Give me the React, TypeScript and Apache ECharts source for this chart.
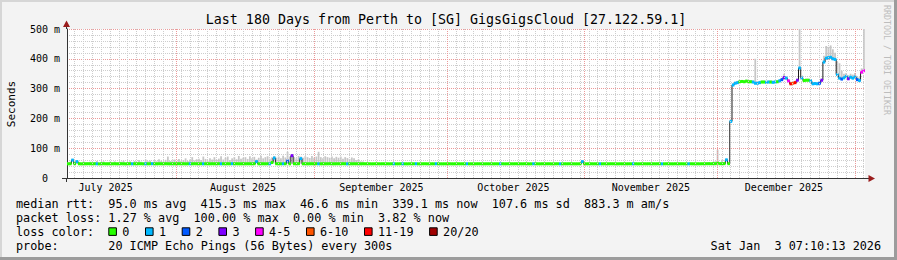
import React, { useEffect, useRef } from "react";
import * as echarts from "echarts";

// ---------------- data ----------------
const TITLE = "Last 180 Days from Perth to [SG] GigsGigsCloud [27.122.59.1]";
const SPAN_DAYS = 180;
const SAMPLE_DAYS = 0.5;
const Y_MAX_MS = 500;
const Y_STEP_MS = 100;

const monthNames = ["July 2025", "August 2025", "September 2025", "October 2025", "November 2025", "December 2025"];
// days after the graph start (Jul 7 2025 07:10:13)
const monthLabelDays = [8.7, 39.7, 70.9, 100.7, 131.7, 161.7];
const monthStartDays = [24.7, 55.7, 85.7, 116.7, 146.7, 177.7];
const MINOR_GRID_FIRST_DAY = 1.7;
const MINOR_GRID_STEP_DAYS = 2;

// median rtt (ms), one value per half day
const medianMs = [
  47.6, 47.8, 60.0, 47.9, 55.0, 47.7, 47.5, 47.8, 47.6, 47.9,
  47.7, 47.5, 47.8, 47.6, 47.4, 47.7, 47.9, 47.6, 47.5, 47.8,
  47.6, 47.8, 47.5, 47.7, 47.9, 47.6, 47.4, 47.7, 47.8, 47.5,
  47.7, 47.6, 47.9, 47.8, 47.5, 47.7, 47.6, 47.8, 47.9, 47.6,
  47.5, 47.8, 47.7, 47.6, 47.9, 47.7, 47.5, 47.8, 47.6, 47.7,
  47.9, 47.6, 47.8, 47.5, 47.7, 47.8, 47.6, 47.9, 47.7, 47.5,
  47.8, 47.6, 47.7, 47.9, 47.5, 47.8, 47.6, 47.7, 47.9, 47.6,
  47.7, 47.5, 47.8, 47.6, 47.9, 47.7, 47.8, 47.6, 47.5, 47.9,
  47.6, 47.8, 47.7, 47.5, 47.9, 55.0, 47.6, 47.8, 47.7, 47.6,
  47.8, 47.5, 52.0, 67.0, 47.9, 47.7, 47.6, 47.8, 47.7, 57.0,
  47.6, 75.0, 47.8, 47.7, 47.9, 65.0, 47.6, 47.8, 47.5, 47.7,
  47.8, 47.6, 47.9, 47.7, 47.5, 47.8, 47.6, 47.7, 47.9, 47.6,
  47.5, 47.7, 47.8, 47.6, 47.9, 47.7, 47.5, 47.8, 47.6, 47.7,
  47.6, 47.8, 47.5, 47.7, 47.6, 47.8, 47.7, 47.5, 47.6, 47.8,
  47.7, 47.6, 47.8, 47.5, 47.7, 47.6, 47.8, 47.7, 47.5, 47.6,
  47.8, 47.7, 47.6, 47.5, 47.8, 47.6, 47.7, 47.8, 47.5, 47.6,
  47.7, 47.8, 47.6, 47.5, 47.7, 47.6, 47.8, 47.7, 47.6, 47.5,
  47.6, 47.7, 47.8, 47.6, 47.5, 47.7, 47.8, 47.6, 47.7, 47.5,
  47.8, 47.6, 47.7, 47.5, 47.6, 47.8, 47.7, 47.6, 47.5, 47.7,
  47.6, 47.8, 47.5, 47.7, 47.6, 47.8, 47.7, 47.5, 47.6, 47.8,
  47.7, 47.6, 47.8, 47.5, 47.7, 47.6, 47.8, 47.7, 47.5, 47.6,
  47.8, 47.7, 47.6, 47.5, 47.8, 47.6, 47.7, 47.8, 47.5, 47.6,
  47.7, 47.8, 47.6, 47.5, 47.7, 47.6, 47.8, 47.7, 47.6, 47.5,
  47.6, 47.7, 55.0, 47.6, 47.5, 47.7, 47.8, 47.6, 47.7, 47.5,
  47.8, 47.6, 47.7, 47.5, 47.6, 47.8, 47.7, 47.6, 47.5, 47.7,
  47.6, 47.8, 47.5, 47.7, 47.6, 47.8, 47.7, 47.5, 47.6, 47.8,
  47.7, 47.6, 47.8, 47.5, 47.7, 47.6, 47.8, 47.7, 47.5, 47.6,
  47.8, 47.7, 47.6, 47.5, 47.8, 47.6, 47.7, 47.8, 47.5, 47.6,
  47.7, 47.8, 47.6, 47.5, 47.7, 47.6, 47.8, 47.7, 47.9, 48.0,
  47.8, 48.1, 47.9, 50.0, 48.0, 47.8, 48.2, 61.0, 48.0, 190.0,
  312, 318, 320, 323, 324, 323, 325, 323, 323, 322,
  318, 318, 320, 322, 322, 321, 322, 322, 321, 322,
  323, 326, 330, 337, 335, 326, 316, 318, 320, 328,
  369, 335, 327, 328, 328, 326, 316, 317, 316, 318,
  328, 389, 402, 404, 405, 400, 398, 347, 335, 332,
  336, 341, 333, 338, 335, 339, 330, 327, 355, 360,
];

// lost pings out of 20, per half day
const lossCount = [
  0, 0, 1, 0, 1, 0, 0, 0, 0, 0,
  0, 0, 0, 1, 0, 0, 0, 0, 0, 0,
  0, 0, 0, 0, 0, 0, 0, 0, 0, 1,
  0, 0, 0, 0, 0, 1, 0, 0, 1, 0,
  0, 0, 0, 0, 0, 0, 0, 0, 0, 0,
  0, 0, 0, 0, 0, 1, 0, 0, 0, 0,
  0, 1, 0, 0, 0, 0, 0, 0, 0, 1,
  0, 0, 0, 0, 1, 0, 0, 0, 0, 0,
  0, 0, 0, 0, 0, 1, 0, 0, 0, 0,
  0, 1, 0, 1, 0, 0, 0, 1, 0, 2,
  0, 3, 0, 0, 0, 1, 0, 0, 0, 0,
  0, 0, 0, 1, 0, 0, 0, 0, 0, 0,
  0, 0, 0, 0, 0, 0, 1, 0, 0, 0,
  0, 0, 0, 0, 0, 0, 0, 0, 0, 0,
  0, 0, 0, 0, 0, 0, 0, 1, 0, 0,
  0, 1, 0, 0, 0, 0, 0, 1, 0, 0,
  0, 0, 0, 0, 0, 0, 1, 0, 0, 0,
  0, 0, 0, 0, 0, 0, 0, 0, 0, 0,
  1, 0, 0, 0, 0, 0, 0, 0, 0, 0,
  0, 0, 0, 0, 0, 1, 0, 0, 0, 0,
  0, 0, 0, 0, 0, 0, 0, 0, 0, 0,
  1, 0, 0, 0, 0, 0, 0, 0, 0, 0,
  0, 0, 1, 0, 0, 0, 0, 0, 0, 0,
  0, 0, 1, 0, 0, 0, 0, 0, 0, 0,
  1, 0, 0, 0, 0, 0, 0, 0, 0, 0,
  0, 0, 0, 0, 0, 1, 0, 0, 0, 0,
  0, 0, 0, 0, 0, 0, 0, 0, 1, 0,
  0, 0, 0, 0, 0, 0, 0, 0, 0, 0,
  1, 0, 0, 0, 0, 0, 0, 0, 0, 0,
  0, 0, 0, 0, 0, 0, 0, 1, 0, 1,
  1, 1, 1, 0, 0, 0, 0, 0, 0, 1,
  1, 1, 1, 0, 0, 1, 1, 0, 1, 1,
  0, 1, 2, 3, 1, 4, 15, 8, 12, 3,
  1, 1, 0, 0, 0, 1, 1, 1, 1, 2,
  3, 1, 1, 1, 1, 1, 1, 1, 1, 2,
  1, 1, 3, 1, 1, 1, 2, 1, 5, 4,
];

// top of the ping "smoke" (ms), per half day
const smokeHighMs = [
  53, 55, 64, 52, 58, 54, 51, 56, 53, 52,
  55, 52, 54, 57, 51, 53, 56, 52, 54, 55,
  52, 56, 53, 51, 55, 58, 52, 54, 56, 53,
  57, 54, 60, 55, 52, 62, 56, 58, 54, 60,
  56, 63, 58, 55, 61, 72, 57, 59, 62, 56,
  64, 58, 60, 66, 57, 62, 70, 59, 63, 65,
  60, 72, 64, 58, 66, 62, 70, 61, 65, 73,
  62, 68, 72, 60, 66, 70, 63, 74, 65, 68,
  70, 64, 73, 66, 71, 62, 68, 75, 66, 70,
  73, 65, 70, 74, 68, 72, 66, 75, 69, 88,
  72, 80, 70, 66, 74, 72, 68, 73, 70, 67,
  74, 68, 72, 88, 70, 66, 73, 70, 68, 72,
  66, 71, 68, 72, 65, 70, 67, 64, 69, 66,
  60, 62, 56, 55, 52, 51, 50, 50, 49, 49,
  49, 49, 49, 49, 49, 49, 49, 49, 49, 49,
  49, 49, 49, 49, 49, 49, 49, 49, 49, 49,
  49, 49, 49, 49, 49, 49, 49, 49, 49, 49,
  49, 49, 49, 49, 49, 49, 49, 49, 49, 49,
  49, 49, 49, 49, 49, 49, 49, 49, 49, 49,
  49, 49, 49, 49, 49, 49, 49, 49, 49, 49,
  49, 49, 49, 49, 49, 49, 49, 49, 49, 49,
  49, 49, 49, 49, 49, 49, 49, 49, 49, 49,
  49, 49, 49, 49, 49, 49, 49, 49, 49, 49,
  49, 49, 58, 49, 49, 49, 49, 49, 49, 49,
  49, 49, 49, 49, 49, 49, 49, 49, 49, 49,
  49, 49, 49, 49, 49, 49, 49, 49, 49, 49,
  49, 49, 49, 49, 49, 49, 49, 49, 49, 49,
  49, 49, 49, 49, 49, 49, 49, 49, 49, 49,
  49, 49, 49, 49, 49, 49, 49, 49, 52, 53,
  50, 54, 56, 95, 52, 61, 53, 64, 50, 196,
  318, 323, 326, 328, 329, 328, 330, 328, 328, 327,
  400, 324, 326, 327, 327, 326, 327, 327, 326, 327,
  328, 332, 336, 350, 341, 331, 322, 324, 326, 334,
  520, 345, 332, 333, 333, 331, 322, 322, 322, 324,
  334, 410, 443, 440, 445, 432, 420, 390, 385, 360,
  350, 352, 345, 350, 347, 352, 342, 338, 368, 520,
];

const lossLegend = [
  { label: "0", color: "#26ff00" },
  { label: "1", color: "#00b8ff" },
  { label: "2", color: "#0059ff" },
  { label: "3", color: "#7e00ff" },
  { label: "4-5", color: "#ff00ff" },
  { label: "6-10", color: "#ff5500" },
  { label: "11-19", color: "#ff0000" },
  { label: "20/20", color: "#a00000" },
];
const lossUpper = [0, 1, 2, 3, 5, 10, 19, 20];

const statLines = [
  "median rtt:  95.0 ms avg  415.3 ms max  46.6 ms min  339.1 ms now  107.6 ms sd  883.3 m am/s",
  "packet loss: 1.27 % avg  100.00 % max  0.00 % min  3.82 % now",
];
const LOSS_LABEL = "loss color:";
const PROBE_LINE = "probe:       20 ICMP Echo Pings (56 Bytes) every 300s";
const STAMP = "Sat Jan  3 07:10:13 2026";
const CREDIT = "RRDTOOL / TOBI OETIKER";

// ---------------- helpers ----------------
const MONO = '"DejaVu Sans Mono", "Liberation Mono", monospace';
const CHAR_W = 7.1;
const LEGEND_FS = 11.8;

function lossColor(n: number): string {
  for (let i = 0; i < lossUpper.length; i++) {
    if (n <= lossUpper[i]) return lossLegend[i].color;
  }
  return lossLegend[lossLegend.length - 1].color;
}

function textEl(text: string, x: number, y: number, fs: number, fill = "#000", align = "left", extra: any = {}) {
  return {
    type: "text",
    x,
    y,
    silent: true,
    ...extra,
    style: {
      text,
      fontSize: fs,
      fontFamily: MONO,
      fill,
      align,
      verticalAlign: "middle",
      textAlign: align,
      textVerticalAlign: "middle",
    },
  };
}

function monoLine(line: string, x0: number, y: number) {
  const out: any[] = [];
  const re = /\S+(?: \S+)*/g;
  let m: RegExpExecArray | null;
  while ((m = re.exec(line))) {
    out.push(textEl(m[0], x0 + m.index * CHAR_W, y, LEGEND_FS));
  }
  return out;
}

function buildOption() {
  const samples = medianMs.map((m, i) => [(i + 0.5) * SAMPLE_DAYS, m, smokeHighMs[i], lossCount[i]]);

  const gridLines: any[] = [];
  for (let d = MINOR_GRID_FIRST_DAY; d < SPAN_DAYS; d += MINOR_GRID_STEP_DAYS) {
    if (monthStartDays.some((s) => Math.abs(s - d) < 0.05)) continue;
    gridLines.push({ xAxis: d, lineStyle: { color: "#cdcdcd", width: 1, type: [1, 1] } });
  }
  monthStartDays.forEach((d) => {
    gridLines.push({ xAxis: d, lineStyle: { color: "#eb9a9a", width: 1, type: [1, 1] } });
  });

  const graphics: any[] = [];
  // frame
  graphics.push({ type: "rect", silent: true, shape: { x: 0, y: 0, width: 897, height: 2 }, style: { fill: "#d6d6d6" } });
  graphics.push({ type: "rect", silent: true, shape: { x: 0, y: 0, width: 2, height: 260 }, style: { fill: "#d6d6d6" } });
  graphics.push({ type: "rect", silent: true, shape: { x: 0, y: 257, width: 897, height: 3 }, style: { fill: "#9c9c9c" } });
  graphics.push({ type: "rect", silent: true, shape: { x: 894, y: 0, width: 3, height: 260 }, style: { fill: "#9c9c9c" } });
  // title & side texts
  graphics.push(textEl(TITLE, 446, 19, 13.3, "#000", "center"));
  graphics.push(textEl("Seconds", 11, 104, 11, "#000", "center", { rotation: Math.PI / 2 }));
  graphics.push(textEl(CREDIT, 887, 60, 8.3, "#bdbdbd", "center", { rotation: -Math.PI / 2 }));
  // axis extensions and arrows
  const axisCol = "#333";
  graphics.push({ type: "line", silent: true, shape: { x1: 66.5, y1: 29, x2: 66.5, y2: 25 }, style: { stroke: axisCol, lineWidth: 1 } });
  graphics.push({ type: "line", silent: true, shape: { x1: 66.5, y1: 178, x2: 66.5, y2: 182 }, style: { stroke: axisCol, lineWidth: 1 } });
  graphics.push({ type: "line", silent: true, shape: { x1: 62, y1: 178.5, x2: 67, y2: 178.5 }, style: { stroke: axisCol, lineWidth: 1 } });
  graphics.push({ type: "line", silent: true, shape: { x1: 865, y1: 178.5, x2: 869, y2: 178.5 }, style: { stroke: axisCol, lineWidth: 1 } });
  graphics.push({ type: "polygon", silent: true, shape: { points: [[66.5, 20.5], [63, 27], [70, 27]] }, style: { fill: "#9a1c1c" } });
  graphics.push({ type: "polygon", silent: true, shape: { points: [[875, 178.5], [868.5, 175], [868.5, 182]] }, style: { fill: "#9a1c1c" } });
  // legend text
  const LX = 16;
  statLines.forEach((l, i) => graphics.push(...monoLine(l, LX, 204.3 + i * 14)));
  graphics.push(...monoLine(LOSS_LABEL, LX, 232.3));
  let bx = LX + 13 * CHAR_W;
  lossLegend.forEach((it) => {
    graphics.push({
      type: "rect",
      silent: true,
      shape: { x: bx + 0.5, y: 227.8, width: 7.6, height: 7.6 },
      style: { fill: it.color, stroke: "#000", lineWidth: 1 },
    });
    graphics.push(textEl(it.label, bx + 14, 232.3, LEGEND_FS));
    bx += 14 + it.label.length * CHAR_W + 15.6;
  });
  graphics.push(...monoLine(PROBE_LINE, LX, 246.3));
  graphics.push(...monoLine(STAMP, 881 - STAMP.length * CHAR_W, 246.3));

  return {
    animation: false,
    backgroundColor: "#f3f3f3",
    grid: { left: 67, top: 29, width: 798, height: 149, show: true, backgroundColor: "#ffffff", borderWidth: 0 },
    xAxis: {
      type: "value",
      min: 0,
      max: SPAN_DAYS,
      axisLine: { show: true, lineStyle: { color: axisCol, width: 1 } },
      axisTick: { show: false },
      splitLine: { show: false },
      axisLabel: {
        customValues: monthLabelDays,
        margin: 4,
        fontSize: 10,
        fontFamily: MONO,
        color: "#000",
        formatter: (v: number) => {
          let best = 0;
          monthLabelDays.forEach((d, i) => {
            if (Math.abs(d - v) < Math.abs(monthLabelDays[best] - v)) best = i;
          });
          return monthNames[best];
        },
      },
    },
    yAxis: {
      type: "value",
      min: 0,
      max: Y_MAX_MS,
      interval: Y_STEP_MS,
      axisLine: { show: true, lineStyle: { color: axisCol, width: 1 } },
      axisTick: { show: false },
      axisLabel: {
        margin: 7,
        fontSize: 10,
        fontFamily: MONO,
        color: "#000",
        formatter: (v: number) => (v === 0 ? "{z|0}" : `${v} m`),
        rich: { z: { fontSize: 10, fontFamily: MONO, color: "#000", padding: [0, 12, 0, 0] } },
      },
      splitLine: { show: true, lineStyle: { color: "#eb9a9a", width: 1, type: [1, 1] } },
      minorTick: { show: false, splitNumber: 5 },
      minorSplitLine: { show: true, lineStyle: { color: "#cdcdcd", width: 1, type: [1, 1] } },
    },
    series: [
      {
        type: "line",
        data: [],
        silent: true,
        z: 1,
        markLine: { silent: true, symbol: ["none", "none"], label: { show: false }, data: gridLines },
      },
      {
        type: "custom",
        z: 2,
        silent: true,
        clip: true,
        data: samples.map((s) => [s[0], s[1], s[2]]),
        encode: { x: 0, y: [1, 2] },
        renderItem: (params: any, api: any) => {
          const d = api.value(0);
          const lo = api.value(1);
          const hi = api.value(2);
          if (hi <= lo) return null;
          const top = api.coord([d, Math.min(hi, Y_MAX_MS)]);
          const bot = api.coord([d, lo]);
          const w = api.size([SAMPLE_DAYS, 0])[0] * 0.8;
          return {
            type: "rect",
            shape: { x: top[0] - w / 2, y: top[1], width: w, height: bot[1] - top[1] },
            style: { fill: "#c6c6c6" },
          };
        },
      },
      {
        type: "line",
        z: 3,
        silent: true,
        step: "middle",
        symbol: "none",
        data: samples.map((s) => [s[0], s[1]]),
        lineStyle: { color: "#1c1c1c", width: 1 },
      },
      {
        type: "custom",
        z: 4,
        silent: true,
        clip: true,
        data: samples.map((s) => [s[0], s[1], s[3]]),
        encode: { x: 0, y: 1 },
        renderItem: (params: any, api: any) => {
          const d = api.value(0);
          const v = api.value(1);
          const loss = api.value(2);
          const p = api.coord([d, v]);
          const w = api.size([SAMPLE_DAYS, 0])[0];
          return {
            type: "rect",
            shape: { x: p[0] - w / 2 - 0.2, y: p[1] - 1.5, width: w + 0.4, height: 3 },
            style: { fill: lossColor(loss) },
          };
        },
      },
    ],
    graphic: { elements: graphics },
  };
}

export default function App() {
  const ref = useRef<HTMLDivElement>(null);
  useEffect(() => {
    document.body.style.margin = "0";
    if (!ref.current) return;
    const chart = echarts.init(ref.current, null, { renderer: "svg", width: 897, height: 260 });
    chart.setOption(buildOption() as any);
    return () => chart.dispose();
  }, []);
  return <div ref={ref} style={{ position: "absolute", left: 0, top: 0, width: 897, height: 260 }} />;
}
